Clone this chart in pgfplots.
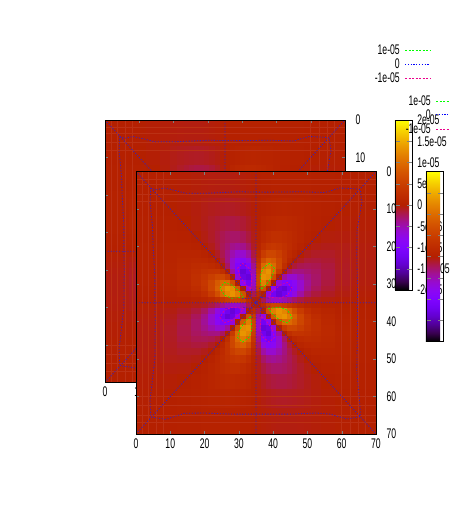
\documentclass[border=0pt]{standalone}
\usepackage{pgfplots}
\usepackage{pgfplotstable}
\usepackage{fontspec}
\pgfplotsset{compat=1.18}
\setmainfont[FakeStretch=0.62]{Liberation Sans}
\newcommand\lbl{\fontsize{14}{14}\selectfont}
\definecolor{zeroline}{HTML}{3A20B8}
\definecolor{stripe}{HTML}{BB3014}
% field in units of 1e-06
\pgfplotstableread{
x y v
0 0 0
7 0 0
12 0 -0.1
16 0 -0.1
19 0 -0.2
21 0 -0.2
23 0 -0.2
24.5 0 -0.2
26 0 -0.2
27.5 0 -0.2
29 0 -0.2
30.5 0 -0.1
32 0 -0.1
33.5 0 -0.1
35 0 0
36.5 0 0.1
38 0 0.1
39.5 0 0.1
41 0 0.2
42.5 0 0.2
44 0 0.2
45.5 0 0.2
47 0 0.2
49 0 0.2
51 0 0.2
54 0 0.1
58 0 0.1
63 0 0
70 0 0
0 7 0
7 7 0
12 7 -0.1
16 7 -0.2
19 7 -0.4
21 7 -0.5
23 7 -0.6
24.5 7 -0.6
26 7 -0.6
27.5 7 -0.6
29 7 -0.6
30.5 7 -0.5
32 7 -0.3
33.5 7 -0.2
35 7 0
36.5 7 0.2
38 7 0.3
39.5 7 0.5
41 7 0.6
42.5 7 0.6
44 7 0.6
45.5 7 0.6
47 7 0.6
49 7 0.5
51 7 0.4
54 7 0.2
58 7 0.1
63 7 0
70 7 0
0 12 0.1
7 12 0.1
12 12 0
16 12 -0.2
19 12 -0.5
21 12 -0.8
23 12 -1
24.5 12 -1.1
26 12 -1.3
27.5 12 -1.3
29 12 -1.2
30.5 12 -1
32 12 -0.8
33.5 12 -0.4
35 12 0
36.5 12 0.4
38 12 0.8
39.5 12 1
41 12 1.2
42.5 12 1.3
44 12 1.3
45.5 12 1.1
47 12 1
49 12 0.8
51 12 0.5
54 12 0.2
58 12 0
63 12 -0.1
70 12 -0.1
0 16 0.1
7 16 0.2
12 16 0.2
16 16 0
19 16 -0.4
21 16 -0.9
23 16 -1.3
24.5 16 -1.7
26 16 -2.1
27.5 16 -2.2
29 16 -2.2
30.5 16 -2
32 16 -1.5
33.5 16 -0.8
35 16 0
36.5 16 0.8
38 16 1.5
39.5 16 2
41 16 2.2
42.5 16 2.2
44 16 2.1
45.5 16 1.7
47 16 1.3
49 16 0.9
51 16 0.4
54 16 0
58 16 -0.2
63 16 -0.2
70 16 -0.1
0 19 0.2
7 19 0.4
12 19 0.5
16 19 0.4
19 19 0
21 19 -0.5
23 19 -1.2
24.5 19 -1.9
26 19 -2.5
27.5 19 -3
29 19 -3.3
30.5 19 -3.2
32 19 -2.5
33.5 19 -1.4
35 19 0
36.5 19 1.4
38 19 2.5
39.5 19 3.2
41 19 3.3
42.5 19 3
44 19 2.5
45.5 19 1.9
47 19 1.2
49 19 0.5
51 19 0
54 19 -0.4
58 19 -0.5
63 19 -0.4
70 19 -0.2
0 21 0.2
7 21 0.5
12 21 0.8
16 21 0.9
19 21 0.5
21 21 0
23 21 -0.9
24.5 21 -1.7
26 21 -2.7
27.5 21 -3.7
29 21 -4.6
30.5 21 -4.9
32 21 -4.2
33.5 21 -2.4
35 21 0
36.5 21 2.4
38 21 4.2
39.5 21 4.9
41 21 4.6
42.5 21 3.7
44 21 2.7
45.5 21 1.7
47 21 0.9
49 21 0
51 21 -0.5
54 21 -0.9
58 21 -0.8
63 21 -0.5
70 21 -0.2
0 23 0.2
7 23 0.6
12 23 1
16 23 1.3
19 23 1.2
21 23 0.9
23 23 0
24.5 23 -1
26 23 -2.6
27.5 23 -4.6
29 23 -6.6
30.5 23 -7.8
32 23 -7.1
33.5 23 -4.3
35 23 0
36.5 23 4.3
38 23 7.1
39.5 23 7.8
41 23 6.6
42.5 23 4.6
44 23 2.6
45.5 23 1
47 23 0
49 23 -0.9
51 23 -1.2
54 23 -1.3
58 23 -1
63 23 -0.6
70 23 -0.2
0 24.5 0.2
7 24.5 0.6
12 24.5 1.1
16 24.5 1.7
19 24.5 1.9
21 24.5 1.7
23 24.5 1
24.5 24.5 0
26 24.5 -1.9
27.5 24.5 -4.7
29 24.5 -8
30.5 24.5 -10.4
32 24.5 -10.2
33.5 24.5 -6.4
35 24.5 0
36.5 24.5 6.4
38 24.5 10.2
39.5 24.5 10.4
41 24.5 8
42.5 24.5 4.7
44 24.5 1.9
45.5 24.5 0
47 24.5 -1
49 24.5 -1.7
51 24.5 -1.9
54 24.5 -1.7
58 24.5 -1.1
63 24.5 -0.6
70 24.5 -0.2
0 26 0.2
7 26 0.6
12 26 1.3
16 26 2.1
19 26 2.5
21 26 2.7
23 26 2.6
24.5 26 1.9
26 26 0
27.5 26 -3.5
29 26 -8.2
30.5 26 -12.4
32 26 -13.3
33.5 26 -8.8
35 26 0
36.5 26 8.8
38 26 13.3
39.5 26 12.4
41 26 8.2
42.5 26 3.5
44 26 0
45.5 26 -1.9
47 26 -2.6
49 26 -2.7
51 26 -2.5
54 26 -2.1
58 26 -1.3
63 26 -0.6
70 26 -0.2
0 27.5 0.2
7 27.5 0.6
12 27.5 1.3
16 27.5 2.2
19 27.5 3
21 27.5 3.7
23 27.5 4.6
24.5 27.5 4.7
26 27.5 3.5
27.5 27.5 0
29 27.5 -5.9
30.5 27.5 -12.5
32 27.5 -15.5
33.5 27.5 -11
35 27.5 0
36.5 27.5 11
38 27.5 15.5
39.5 27.5 12.5
41 27.5 5.9
42.5 27.5 0
44 27.5 -3.5
45.5 27.5 -4.7
47 27.5 -4.6
49 27.5 -3.7
51 27.5 -3
54 27.5 -2.2
58 27.5 -1.3
63 27.5 -0.6
70 27.5 -0.2
0 29 0.2
7 29 0.6
12 29 1.2
16 29 2.2
19 29 3.3
21 29 4.6
23 29 6.6
24.5 29 8
26 29 8.2
27.5 29 5.9
29 29 0
30.5 29 -8.3
32 29 -14.6
33.5 29 -12
35 29 0
36.5 29 12
38 29 14.6
39.5 29 8.3
41 29 0
42.5 29 -5.9
44 29 -8.2
45.5 29 -8
47 29 -6.6
49 29 -4.6
51 29 -3.3
54 29 -2.2
58 29 -1.2
63 29 -0.6
70 29 -0.2
0 30.5 0.1
7 30.5 0.5
12 30.5 1
16 30.5 2
19 30.5 3.2
21 30.5 4.9
23 30.5 7.8
24.5 30.5 10.4
26 30.5 12.4
27.5 30.5 12.5
29 30.5 8.3
30.5 30.5 0
32 30.5 -9.2
33.5 30.5 -11.1
35 30.5 0
36.5 30.5 11.1
38 30.5 9.2
39.5 30.5 0
41 30.5 -8.3
42.5 30.5 -12.5
44 30.5 -12.4
45.5 30.5 -10.4
47 30.5 -7.8
49 30.5 -4.9
51 30.5 -3.2
54 30.5 -2
58 30.5 -1
63 30.5 -0.5
70 30.5 -0.1
0 32 0.1
7 32 0.3
12 32 0.8
16 32 1.5
19 32 2.5
21 32 4.2
23 32 7.1
24.5 32 10.2
26 32 13.3
27.5 32 15.5
29 32 14.6
30.5 32 9.2
32 32 0
33.5 32 -7.6
35 32 0
36.5 32 7.6
38 32 0
39.5 32 -9.2
41 32 -14.6
42.5 32 -15.5
44 32 -13.3
45.5 32 -10.2
47 32 -7.1
49 32 -4.2
51 32 -2.5
54 32 -1.5
58 32 -0.8
63 32 -0.3
70 32 -0.1
0 33.5 0.1
7 33.5 0.2
12 33.5 0.4
16 33.5 0.8
19 33.5 1.4
21 33.5 2.4
23 33.5 4.3
24.5 33.5 6.4
26 33.5 8.8
27.5 33.5 11
29 33.5 12
30.5 33.5 11.1
32 33.5 7.6
33.5 33.5 0
35 33.5 0
36.5 33.5 0
38 33.5 -7.6
39.5 33.5 -11.1
41 33.5 -12
42.5 33.5 -11
44 33.5 -8.8
45.5 33.5 -6.4
47 33.5 -4.3
49 33.5 -2.4
51 33.5 -1.4
54 33.5 -0.8
58 33.5 -0.4
63 33.5 -0.2
70 33.5 -0.1
0 35 0
7 35 0
12 35 0
16 35 0
19 35 0
21 35 0
23 35 0
24.5 35 0
26 35 0
27.5 35 0
29 35 0
30.5 35 0
32 35 0
33.5 35 0
35 35 0
36.5 35 0
38 35 0
39.5 35 0
41 35 0
42.5 35 0
44 35 0
45.5 35 0
47 35 0
49 35 0
51 35 0
54 35 0
58 35 0
63 35 0
70 35 0
0 36.5 -0.1
7 36.5 -0.2
12 36.5 -0.4
16 36.5 -0.8
19 36.5 -1.4
21 36.5 -2.4
23 36.5 -4.3
24.5 36.5 -6.4
26 36.5 -8.8
27.5 36.5 -11
29 36.5 -12
30.5 36.5 -11.1
32 36.5 -7.6
33.5 36.5 0
35 36.5 0
36.5 36.5 0
38 36.5 7.6
39.5 36.5 11.1
41 36.5 12
42.5 36.5 11
44 36.5 8.8
45.5 36.5 6.4
47 36.5 4.3
49 36.5 2.4
51 36.5 1.4
54 36.5 0.8
58 36.5 0.4
63 36.5 0.2
70 36.5 0.1
0 38 -0.1
7 38 -0.3
12 38 -0.8
16 38 -1.5
19 38 -2.5
21 38 -4.2
23 38 -7.1
24.5 38 -10.2
26 38 -13.3
27.5 38 -15.5
29 38 -14.6
30.5 38 -9.2
32 38 0
33.5 38 7.6
35 38 0
36.5 38 -7.6
38 38 0
39.5 38 9.2
41 38 14.6
42.5 38 15.5
44 38 13.3
45.5 38 10.2
47 38 7.1
49 38 4.2
51 38 2.5
54 38 1.5
58 38 0.8
63 38 0.3
70 38 0.1
0 39.5 -0.1
7 39.5 -0.5
12 39.5 -1
16 39.5 -2
19 39.5 -3.2
21 39.5 -4.9
23 39.5 -7.8
24.5 39.5 -10.4
26 39.5 -12.4
27.5 39.5 -12.5
29 39.5 -8.3
30.5 39.5 0
32 39.5 9.2
33.5 39.5 11.1
35 39.5 0
36.5 39.5 -11.1
38 39.5 -9.2
39.5 39.5 0
41 39.5 8.3
42.5 39.5 12.5
44 39.5 12.4
45.5 39.5 10.4
47 39.5 7.8
49 39.5 4.9
51 39.5 3.2
54 39.5 2
58 39.5 1
63 39.5 0.5
70 39.5 0.1
0 41 -0.2
7 41 -0.6
12 41 -1.2
16 41 -2.2
19 41 -3.3
21 41 -4.6
23 41 -6.6
24.5 41 -8
26 41 -8.2
27.5 41 -5.9
29 41 0
30.5 41 8.3
32 41 14.6
33.5 41 12
35 41 0
36.5 41 -12
38 41 -14.6
39.5 41 -8.3
41 41 0
42.5 41 5.9
44 41 8.2
45.5 41 8
47 41 6.6
49 41 4.6
51 41 3.3
54 41 2.2
58 41 1.2
63 41 0.6
70 41 0.2
0 42.5 -0.2
7 42.5 -0.6
12 42.5 -1.3
16 42.5 -2.2
19 42.5 -3
21 42.5 -3.7
23 42.5 -4.6
24.5 42.5 -4.7
26 42.5 -3.5
27.5 42.5 0
29 42.5 5.9
30.5 42.5 12.5
32 42.5 15.5
33.5 42.5 11
35 42.5 0
36.5 42.5 -11
38 42.5 -15.5
39.5 42.5 -12.5
41 42.5 -5.9
42.5 42.5 0
44 42.5 3.5
45.5 42.5 4.7
47 42.5 4.6
49 42.5 3.7
51 42.5 3
54 42.5 2.2
58 42.5 1.3
63 42.5 0.6
70 42.5 0.2
0 44 -0.2
7 44 -0.6
12 44 -1.3
16 44 -2.1
19 44 -2.5
21 44 -2.7
23 44 -2.6
24.5 44 -1.9
26 44 0
27.5 44 3.5
29 44 8.2
30.5 44 12.4
32 44 13.3
33.5 44 8.8
35 44 0
36.5 44 -8.8
38 44 -13.3
39.5 44 -12.4
41 44 -8.2
42.5 44 -3.5
44 44 0
45.5 44 1.9
47 44 2.6
49 44 2.7
51 44 2.5
54 44 2.1
58 44 1.3
63 44 0.6
70 44 0.2
0 45.5 -0.2
7 45.5 -0.6
12 45.5 -1.1
16 45.5 -1.7
19 45.5 -1.9
21 45.5 -1.7
23 45.5 -1
24.5 45.5 0
26 45.5 1.9
27.5 45.5 4.7
29 45.5 8
30.5 45.5 10.4
32 45.5 10.2
33.5 45.5 6.4
35 45.5 0
36.5 45.5 -6.4
38 45.5 -10.2
39.5 45.5 -10.4
41 45.5 -8
42.5 45.5 -4.7
44 45.5 -1.9
45.5 45.5 0
47 45.5 1
49 45.5 1.7
51 45.5 1.9
54 45.5 1.7
58 45.5 1.1
63 45.5 0.6
70 45.5 0.2
0 47 -0.2
7 47 -0.6
12 47 -1
16 47 -1.3
19 47 -1.2
21 47 -0.9
23 47 0
24.5 47 1
26 47 2.6
27.5 47 4.6
29 47 6.6
30.5 47 7.8
32 47 7.1
33.5 47 4.3
35 47 0
36.5 47 -4.3
38 47 -7.1
39.5 47 -7.8
41 47 -6.6
42.5 47 -4.6
44 47 -2.6
45.5 47 -1
47 47 0
49 47 0.9
51 47 1.2
54 47 1.3
58 47 1
63 47 0.6
70 47 0.2
0 49 -0.2
7 49 -0.5
12 49 -0.8
16 49 -0.9
19 49 -0.5
21 49 0
23 49 0.9
24.5 49 1.7
26 49 2.7
27.5 49 3.7
29 49 4.6
30.5 49 4.9
32 49 4.2
33.5 49 2.4
35 49 0
36.5 49 -2.4
38 49 -4.2
39.5 49 -4.9
41 49 -4.6
42.5 49 -3.7
44 49 -2.7
45.5 49 -1.7
47 49 -0.9
49 49 0
51 49 0.5
54 49 0.9
58 49 0.8
63 49 0.5
70 49 0.2
0 51 -0.2
7 51 -0.4
12 51 -0.5
16 51 -0.4
19 51 0
21 51 0.5
23 51 1.2
24.5 51 1.9
26 51 2.5
27.5 51 3
29 51 3.3
30.5 51 3.2
32 51 2.5
33.5 51 1.4
35 51 0
36.5 51 -1.4
38 51 -2.5
39.5 51 -3.2
41 51 -3.3
42.5 51 -3
44 51 -2.5
45.5 51 -1.9
47 51 -1.2
49 51 -0.5
51 51 0
54 51 0.4
58 51 0.5
63 51 0.4
70 51 0.2
0 54 -0.1
7 54 -0.2
12 54 -0.2
16 54 0
19 54 0.4
21 54 0.9
23 54 1.3
24.5 54 1.7
26 54 2.1
27.5 54 2.2
29 54 2.2
30.5 54 2
32 54 1.5
33.5 54 0.8
35 54 0
36.5 54 -0.8
38 54 -1.5
39.5 54 -2
41 54 -2.2
42.5 54 -2.2
44 54 -2.1
45.5 54 -1.7
47 54 -1.3
49 54 -0.9
51 54 -0.4
54 54 0
58 54 0.2
63 54 0.2
70 54 0.1
0 58 -0.1
7 58 -0.1
12 58 0
16 58 0.2
19 58 0.5
21 58 0.8
23 58 1
24.5 58 1.1
26 58 1.3
27.5 58 1.3
29 58 1.2
30.5 58 1
32 58 0.8
33.5 58 0.4
35 58 0
36.5 58 -0.4
38 58 -0.8
39.5 58 -1
41 58 -1.2
42.5 58 -1.3
44 58 -1.3
45.5 58 -1.1
47 58 -1
49 58 -0.8
51 58 -0.5
54 58 -0.2
58 58 0
63 58 0.1
70 58 0.1
0 63 0
7 63 0
12 63 0.1
16 63 0.2
19 63 0.4
21 63 0.5
23 63 0.6
24.5 63 0.6
26 63 0.6
27.5 63 0.6
29 63 0.6
30.5 63 0.5
32 63 0.3
33.5 63 0.2
35 63 0
36.5 63 -0.2
38 63 -0.3
39.5 63 -0.5
41 63 -0.6
42.5 63 -0.6
44 63 -0.6
45.5 63 -0.6
47 63 -0.6
49 63 -0.5
51 63 -0.4
54 63 -0.2
58 63 -0.1
63 63 0
70 63 0
0 70 0
7 70 0
12 70 0.1
16 70 0.1
19 70 0.2
21 70 0.2
23 70 0.2
24.5 70 0.2
26 70 0.2
27.5 70 0.2
29 70 0.2
30.5 70 0.1
32 70 0.1
33.5 70 0.1
35 70 0
36.5 70 -0.1
38 70 -0.1
39.5 70 -0.1
41 70 -0.2
42.5 70 -0.2
44 70 -0.2
45.5 70 -0.2
47 70 -0.2
49 70 -0.2
51 70 -0.2
54 70 -0.1
58 70 -0.1
63 70 0
70 70 0
}\heat
\pgfplotstableread[row sep=\\]{
x y\\
0 0\\ 70 70\\ nan nan\\ 0 70\\ 70 0\\ nan nan\\ 35 0\\ 35 70\\ nan nan\\ 0 35\\ 70 35\\ nan nan\\
4.3 4.4\\ 5.8 4.9\\ 8.2 4.4\\ 11.6 5.1\\ 14.5 5.8\\ 20.4 5.8\\ 30.2 5.4\\ 35 5.5\\ 40 5.5\\ 48 5.4\\ 55 5.6\\ 59.5 4.4\\ 64 4.6\\ 65.4 4.8\\
65.9 8.3\\ 64.5 15.5\\ 64.4 22\\ 64.6 30\\ 64.6 35\\ 64.6 42\\ 64.4 53\\ 65.4 63.6\\ 65.4 65.4\\
61.5 66\\ 56.6 64.7\\ 52.7 64.4\\ 45 64.7\\ 35 64.7\\ 28.2 64.7\\ 19.4 64.4\\ 14 64.5\\ 8.7 66.1\\ 6.7 65.8\\ 4.3 65.5\\
4.1 61\\ 5.5 50\\ 5.6 40\\ 5.5 35\\ 5.5 28\\ 5 20\\ 4.8 14.6\\ 4.1 8.3\\ 4.3 4.4\\ nan nan\\
31 33.9\\ 33.5 33.8\\ 33.8 31\\ nan nan\\ 36.1 31\\ 36.2 33.5\\ 39 33.8\\ nan nan\\
39 36.1\\ 36.5 36.2\\ 36.2 39\\ nan nan\\ 33.9 39\\ 33.8 36.5\\ 31 36.2\\
}\zerolines
\pgfplotstableread[row sep=\\]{
x y\\
36.5 31.4\\ 36.2 28\\ 37 25.8\\ 38.9 24.5\\ 40.4 25.8\\ 39.7 28\\ 37.9 30.3\\ 36.5 31.4\\ nan nan\\
38.6 36.5\\ 42 36.2\\ 44.2 37\\ 45.5 38.9\\ 44.2 40.4\\ 42 39.7\\ 39.7 37.9\\ 38.6 36.5\\ nan nan\\
33.5 38.6\\ 33.8 42\\ 33 44.2\\ 31.1 45.5\\ 29.6 44.2\\ 30.3 42\\ 32.1 39.7\\ 33.5 38.6\\ nan nan\\
31.4 33.5\\ 28 33.8\\ 25.8 33\\ 24.5 31.1\\ 25.8 29.6\\ 28 30.3\\ 30.3 32.1\\ 31.4 33.5\\
}\poslobes
\pgfplotstableread[row sep=\\]{
x y\\
33.5 31.4\\ 33.8 28\\ 33 25.8\\ 31.1 24.5\\ 29.6 25.8\\ 30.3 28\\ 32.1 30.3\\ 33.5 31.4\\ nan nan\\
38.6 33.5\\ 42 33.8\\ 44.2 33\\ 45.5 31.1\\ 44.2 29.6\\ 42 30.3\\ 39.7 32.1\\ 38.6 33.5\\ nan nan\\
36.5 38.6\\ 36.2 42\\ 37 44.2\\ 38.9 45.5\\ 40.4 44.2\\ 39.7 42\\ 37.9 39.7\\ 36.5 38.6\\ nan nan\\
31.4 36.5\\ 28 36.2\\ 25.8 37\\ 24.5 38.9\\ 25.8 40.4\\ 28 39.7\\ 30.3 37.9\\ 31.4 36.5\\
}\neglobes
% pale stripes near the edges
\pgfplotstableread[row sep=\\]{
x y\\
2 0\\ 2 70\\ nan nan\\ 3.5 0\\ 3.5 70\\ nan nan\\ 6 0\\ 6 70\\ nan nan\\ 8 0\\ 8 70\\ nan nan\\ 60 0\\ 60 70\\ nan nan\\ 62.5 0\\ 62.5 70\\ nan nan\\ 65 0\\ 65 70\\ nan nan\\ 67 0\\ 67 70\\ nan nan\\
0 2\\ 70 2\\ nan nan\\ 0 3.5\\ 70 3.5\\ nan nan\\ 0 6\\ 70 6\\ nan nan\\ 0 8\\ 70 8\\ nan nan\\ 0 60\\ 70 60\\ nan nan\\ 0 62.5\\ 70 62.5\\ nan nan\\ 0 65\\ 70 65\\ nan nan\\ 0 67\\ 70 67\\
}\stripes
\pgfplotsset{
  colormap={gp}{rgb=(0,0,0) rgb=(.2236,.0001,.309) rgb=(.3162,.001,.588) rgb=(.3873,.0034,.809) rgb=(.4472,.008,.951) rgb=(.5,.0156,1) rgb=(.5477,.027,.951) rgb=(.5916,.0429,.809) rgb=(.6325,.064,.588) rgb=(.6708,.0911,.309) rgb=(.7071,.125,0) rgb=(.7416,.1664,0) rgb=(.7746,.216,0) rgb=(.8062,.2746,0) rgb=(.8367,.343,0) rgb=(.866,.4219,0) rgb=(.8944,.512,0) rgb=(.922,.6141,0) rgb=(.9487,.729,0) rgb=(.9747,.8574,0) rgb=(1,1,0)},
  map/.style={
    scale only axis, width=240bp, height=262.5bp,
    xmin=0, xmax=70, ymin=0, ymax=70, y dir=reverse,
    axis on top, axis line style={line width=.7bp},
    xtick={0,10,...,70}, ytick={0,10,...,70},
    xticklabels={0,10,20,30,40,50,60,70},
    yticklabels={0,10,20,30,40,50,60,70},
    tick align=inside, major tick length=3bp,
    yticklabel pos=right,
    tick label style={font=\lbl},
    xticklabel style={yshift=-1bp},
    yticklabel style={xshift=7bp},
    point meta min=-20, point meta max=20,
    unbounded coords=jump,
    colorbar,
    colorbar style={
      scale only axis, width=17bp, height=170bp,
      at={(1.208,1)}, anchor=north west,
      ytick={-20,-15,...,20}, ytick align=inside, major tick length=5bp,
      yticklabel pos=right, xtick=\empty, xticklabels={},
    },
  },
}
\newcommand\fields{
  \addplot[surf, shader=flat mean, mesh/cols=29, point meta=explicit, forget plot]
    table[x=x, y=y, meta=v] {\heat};
  \addplot[stripe, line width=.8bp, forget plot] table {\stripes};
  \addplot[green, line width=.6bp, dash pattern=on 2bp off 1.5bp] table {\poslobes};
  \addplot[zeroline, line width=.8bp, dash pattern=on 1.2bp off 1.6bp] table {\zerolines};
  \addplot[magenta, line width=.6bp, dash pattern=on 2bp off 1.5bp] table {\neglobes};
}
\tikzset{keytext/.style={anchor=east, font=\lbl, inner sep=0pt}}
\begin{document}
\begin{tikzpicture}[x=1bp,y=1bp]
\path[use as bounding box] (0bp,0bp) rectangle (450bp,518bp);
\begin{axis}[map, at={(105bp,135.5bp)}, anchor=south west,
  colorbar style={yticklabels={-2e-05,-1.5e-05,-1e-05,-5e-06,0,5e-06,1e-05,1.5e-05,2e-05}, yticklabel style={font=\lbl, xshift=2bp}}]
\fields
\end{axis}
\begin{axis}[map, at={(136bp,84bp)}, anchor=south west, colorbar style={yticklabels={,,}}]
\fields
\end{axis}
% keys of the two plots
\node[keytext] at (400bp,468bp) {1e-05};
\node[keytext] at (400bp,454bp) {0};
\node[keytext] at (400bp,440bp) {-1e-05};
\draw[green, line width=.6bp, dash pattern=on 2bp off 1.5bp] (405bp,468bp) -- (430bp,468bp);
\draw[blue, line width=.6bp, dash pattern=on 1.2bp off 1.6bp] (405bp,454bp) -- (430bp,454bp);
\draw[magenta, line width=.6bp, dash pattern=on 2bp off 1.5bp] (405bp,440bp) -- (430bp,440bp);
\node[keytext] at (431bp,417bp) {1e-05};
\node[keytext] at (431bp,403.5bp) {0};
\node[keytext] at (431bp,389bp) {-1e-05};
\draw[green, line width=.6bp, dash pattern=on 2bp off 1.5bp] (436bp,417bp) -- (450bp,417bp);
\draw[blue, line width=.6bp, dash pattern=on 1.2bp off 1.6bp] (436bp,403.5bp) -- (450bp,403.5bp);
\draw[magenta, line width=.6bp, dash pattern=on 2bp off 1.5bp] (436bp,389bp) -- (450bp,389bp);
\end{tikzpicture}
\end{document}
